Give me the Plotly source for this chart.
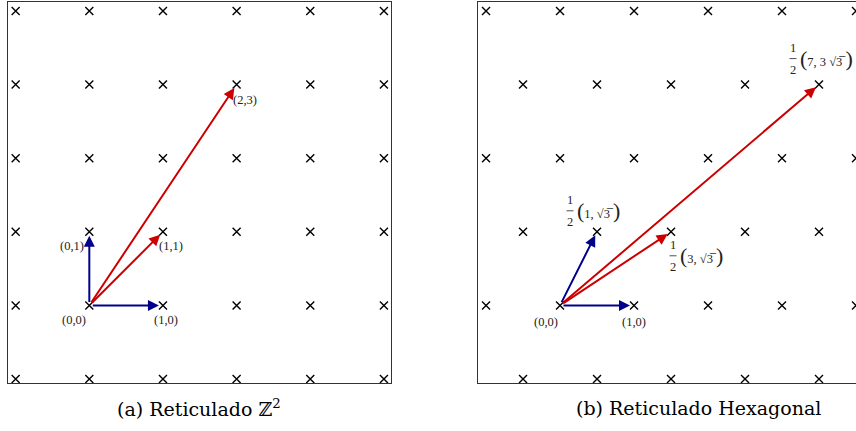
import math
import plotly.graph_objects as go

S3 = math.sqrt(3)

# ---------------- data ----------------
# square lattice Z^2
sq_cols = [-1, 0, 1, 2, 3, 4]
sq_rows = [-1, 0, 1, 2, 3, 4]
sq_basis = [(1, 0), (0, 1)]
sq_basis_labels = ["(1,0)", "(0,1)"]
sq_vectors = [(1, 1), (2, 3)]
sq_vector_labels = ["(1,1)", "(2,3)"]
sq_origin_label = "(0,0)"

# hexagonal lattice
hex_rows = [-1, 0, 1, 2, 3, 4]          # row index j, y = j*sqrt(3)/2
hex_cols = [-1, 0, 1, 2, 3, 4]          # column index i, x = i + (j mod 2)/2
hex_basis = [(1, 0), (0.5, S3 / 2)]
hex_vectors = [(1.5, S3 / 2), (3.5, 3 * S3 / 2)]
hex_origin_label = "(0,0)"
hex_b1_label = "(1,0)"
hex_frac_inner = ["1, \u221a3\u0305 ",
                  "3, \u221a3\u0305 ",
                  "7, 3 \u221a3\u0305 "]

# captions
captions = ["(a) Reticulado ℤ<sup>2</sup>", "(b) Reticulado Hexagonal"]

# ---------------- styling ----------------
BLUE = "#00008b"
RED = "#cc0000"
LAB_FONT = dict(family="Liberation Serif", size=12.5, color="#222")

fig = go.Figure()

# square lattice points
sx = [c for r in sq_rows for c in sq_cols]
sy = [r for r in sq_rows for c in sq_cols]
fig.add_trace(go.Scatter(x=sx, y=sy, mode="markers", xaxis="x", yaxis="y",
                         marker=dict(symbol="x-thin", size=8,
                                     line=dict(width=1.4, color="black")),
                         hoverinfo="skip", showlegend=False))

# hex lattice points
hx, hy = [], []
for j in hex_rows:
    for i in hex_cols:
        hx.append(i + (j % 2) / 2)
        hy.append(j * S3 / 2)
fig.add_trace(go.Scatter(x=hx, y=hy, mode="markers", xaxis="x2", yaxis="y2",
                         marker=dict(symbol="x-thin", size=8,
                                     line=dict(width=1.4, color="black")),
                         hoverinfo="skip", showlegend=False))

ann = []
shapes = []


def arrow(xr, yr, tip, color):
    ann.append(dict(xref=xr, yref=yr, axref=xr, ayref=yr,
                    x=tip[0], y=tip[1], ax=0, ay=0, text="",
                    showarrow=True, arrowhead=2, arrowsize=1.1,
                    arrowwidth=2, arrowcolor=color, standoff=4,
                    startstandoff=2))


def label(xr, yr, pt, text, dx, dy, xanchor="center", font=LAB_FONT):
    ann.append(dict(xref=xr, yref=yr, x=pt[0], y=pt[1], text=text,
                    showarrow=False, xshift=dx, yshift=dy,
                    xanchor=xanchor, yanchor="middle", font=font))


# ---- panel (a)
for v in sq_basis:
    arrow("x", "y", v, BLUE)
for v in sq_vectors:
    arrow("x", "y", v, RED)
label("x", "y", (0, 0), sq_origin_label, -15, -15)
label("x", "y", sq_basis[0], sq_basis_labels[0], 3, -15)
label("x", "y", sq_basis[1], sq_basis_labels[1], -17, -14)
label("x", "y", sq_vectors[0], sq_vector_labels[0], 8, -14)
label("x", "y", sq_vectors[1], sq_vector_labels[1], 8, -15)

# ---- panel (b)
for v in hex_basis:
    arrow("x2", "y2", v, BLUE)
for v in hex_vectors:
    arrow("x2", "y2", v, RED)
label("x2", "y2", (0, 0), hex_origin_label, -14, -17)
label("x2", "y2", hex_basis[0], hex_b1_label, 0, -17)

frac_pts = [hex_basis[1], hex_vectors[0], hex_vectors[1]]
frac_offsets = [(-27, 21), (2, -24), (-26, 26)]
PAREN = "<span style='font-size:22px'>%s</span>"
for pt, (dx, dy), inner in zip(frac_pts, frac_offsets, hex_frac_inner):
    label("x2", "y2", pt, "1", dx, dy + 11)
    label("x2", "y2", pt, "2", dx, dy - 11)
    shapes.append(dict(type="line", xref="x2", yref="y2",
                       xsizemode="pixel", ysizemode="pixel",
                       xanchor=pt[0], yanchor=pt[1],
                       x0=dx - 3.5, x1=dx + 3.5, y0=dy, y1=dy,
                       line=dict(color="#222", width=0.8)))
    label("x2", "y2", pt, PAREN % "(" + inner + PAREN % ")", dx + 5, dy,
          xanchor="left")

# captions
for xc, cap in zip([0.232, 0.8165], captions):
    ann.append(dict(xref="paper", yref="paper", x=xc, y=0.053, text=cap,
                    showarrow=False, xanchor="center", yanchor="middle",
                    font=dict(family="DejaVu Serif", size=19,
                              color="black")))

axis_common = dict(showline=True, mirror=True, linecolor="#333",
                   linewidth=1.3, showgrid=False, zeroline=False,
                   showticklabels=False, ticks="", fixedrange=True)

fig.update_layout(
    width=856, height=431,
    margin=dict(l=0, r=0, t=0, b=0),
    paper_bgcolor="white", plot_bgcolor="white",
    xaxis=dict(domain=[0.0097, 0.4571], range=[-1.1, 4.1], **axis_common),
    yaxis=dict(domain=[0.1114, 0.996], range=[-1.054, 4.126], **axis_common),
    xaxis2=dict(domain=[0.5588, 1.0], range=[-1.104, 4.0], anchor="y2",
                **axis_common),
    yaxis2=dict(domain=[0.1114, 0.996], range=[-0.913, 3.573], anchor="x2",
                **axis_common),
    annotations=ann,
    shapes=shapes,
    showlegend=False,
)

fig.write_html("out.html", config={"displayModeBar": False},
               post_script="document.body.style.margin='0px';")
